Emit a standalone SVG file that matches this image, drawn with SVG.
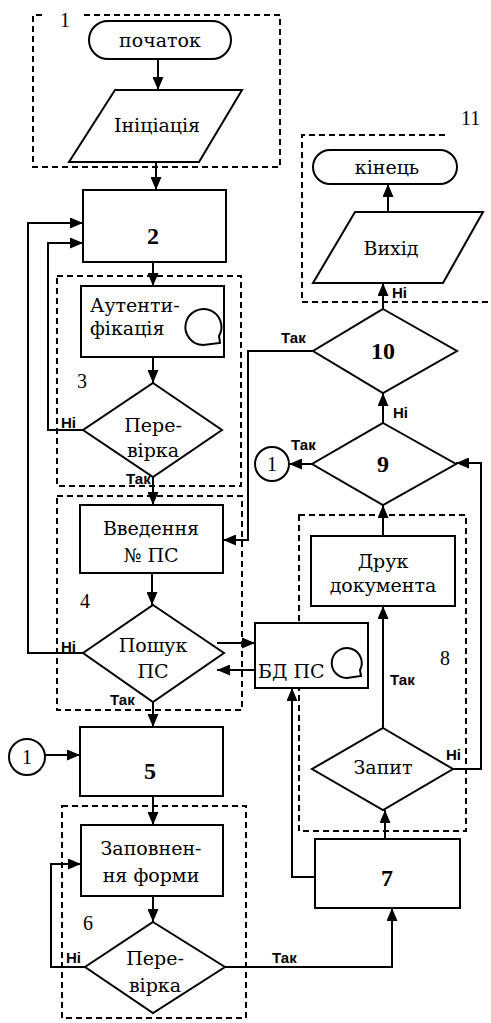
<svg xmlns="http://www.w3.org/2000/svg" width="491" height="1023" viewBox="0 0 491 1023">
<style>
.s{fill:#fff;stroke:#000;stroke-width:2}
.d{fill:none;stroke:#000;stroke-width:2;stroke-dasharray:6 4}
.c{fill:none;stroke:#000;stroke-width:2}
.t{font-family:"DejaVu Serif","Liberation Serif",serif;font-size:19px;fill:#000}
.m{text-anchor:middle}
.b{font-family:"Liberation Serif",serif;font-size:24px;font-weight:bold;fill:#000;text-anchor:middle}
.l{font-family:"Liberation Sans",sans-serif;font-size:15px;font-weight:bold;fill:#000}
.n{font-family:"Liberation Serif",serif;font-size:20px;fill:#000}
</style>
<defs>
<marker id="a" markerUnits="userSpaceOnUse" markerWidth="13" markerHeight="11" refX="13" refY="5.5" orient="auto">
<path d="M0,0 L13,5.5 L0,11 Z" fill="#000"/>
</marker>
</defs>
<rect width="491" height="1023" fill="#fff"/>

<g id="groups">
<path class="d" d="M42,15 H33 V167 H280 V15 H80"/>
<text class="n" x="60" y="27">1</text>
<rect class="d" x="57" y="276" width="184" height="210"/>
<text class="n" x="77" y="388">3</text>
<rect class="d" x="57" y="496" width="185" height="214"/>
<text class="n" x="80" y="608">4</text>
<rect class="d" x="62" y="806" width="184" height="212"/>
<text class="n" x="83" y="930">6</text>
<rect class="d" x="299" y="515" width="167" height="316"/>
<text class="n" x="440" y="665">8</text>
<path class="d" d="M445,135 H302 V302 H491"/>
<text class="n" x="461" y="125">11</text>
</g>

<g id="connectors">
<path class="c" d="M158,59 V90" marker-end="url(#a)"/>
<path class="c" d="M156,162 V190" marker-end="url(#a)"/>
<path class="c" d="M153,262 V286" marker-end="url(#a)"/>
<path class="c" d="M153,357 V383" marker-end="url(#a)"/>
<path class="c" d="M83,430 H48 V243 H83" marker-end="url(#a)"/>
<path class="c" d="M153,477 V505" marker-end="url(#a)"/>
<path class="c" d="M152,573 V605" marker-end="url(#a)"/>
<path class="c" d="M83,653 H28 V223 H83" marker-end="url(#a)"/>
<path class="c" d="M217,643 H255" marker-end="url(#a)"/>
<path class="c" d="M255,670 H217" marker-end="url(#a)"/>
<path class="c" d="M153,702 V727" marker-end="url(#a)"/>
<path class="c" d="M45,755 H80" marker-end="url(#a)"/>
<path class="c" d="M153,796 V825" marker-end="url(#a)"/>
<path class="c" d="M153,896 V922" marker-end="url(#a)"/>
<path class="c" d="M85,967 H51 V864 H81" marker-end="url(#a)"/>
<path class="c" d="M225,967 H392 V908" marker-end="url(#a)"/>
<path class="c" d="M315,877 H292 V688" marker-end="url(#a)"/>
<path class="c" d="M385,839 V810" marker-end="url(#a)"/>
<path class="c" d="M383,728 V606" marker-end="url(#a)"/>
<path class="c" d="M453,769 H481 V463 H456" marker-end="url(#a)"/>
<path class="c" d="M383,536 V505" marker-end="url(#a)"/>
<path class="c" d="M312,464 H289" marker-end="url(#a)"/>
<path class="c" d="M383,423 V393" marker-end="url(#a)"/>
<path class="c" d="M313,351 H248 V540 H223" marker-end="url(#a)"/>
<path class="c" d="M383,309 V283" marker-end="url(#a)"/>
<path class="c" d="M388,212 V184" marker-end="url(#a)"/>
<text class="l" x="61" y="428">Ні</text>
<text class="l" x="126" y="484">Так</text>
<text class="l" x="61" y="652">Ні</text>
<text class="l" x="110" y="705">Так</text>
<text class="l" x="66" y="963">Ні</text>
<text class="l" x="272" y="963">Так</text>
<text class="l" x="390" y="685">Так</text>
<text class="l" x="446" y="760">Ні</text>
<text class="l" x="291" y="450">Так</text>
<text class="l" x="393" y="418">Ні</text>
<text class="l" x="281" y="343">Так</text>
<text class="l" x="392" y="298">Ні</text>
</g>

<g id="start">
<rect class="s" x="89" y="21" width="142" height="38" rx="19"/>
<text class="t m" x="160" y="47">початок</text>
</g>
<g id="init">
<path class="s" d="M115,90 H242 L199,162 H69 Z"/>
<text class="t m" x="157" y="132">Ініціація</text>
</g>
<g id="n2">
<rect class="s" x="83" y="190" width="143" height="72"/>
<text class="b" x="153" y="244">2</text>
</g>
<g id="auth">
<rect class="s" x="81" y="286" width="143" height="71"/>
<text class="t" x="90" y="312">Аутенти-</text>
<text class="t" x="90" y="335">фікація</text>
<path class="c" d="M203,345 A18,18 0 1 1 219,336 L220,343 Z" fill="none"/>
</g>
<g id="check1">
<path class="s" d="M153,383 L222,430 L153,477 L83,430 Z"/>
<text class="t m" x="153" y="432">Пере-</text>
<text class="t m" x="153" y="457">вірка</text>
</g>
<g id="input">
<rect class="s" x="80" y="505" width="143" height="68"/>
<text class="t m" x="151" y="535">Введення</text>
<text class="t m" x="151" y="562">№ ПС</text>
</g>
<g id="search">
<path class="s" d="M153,605 L224,653 L153,702 L83,653 Z"/>
<text class="t m" x="153" y="652">Пошук</text>
<text class="t m" x="153" y="678">ПС</text>
</g>
<g id="db">
<rect class="s" x="255" y="623" width="113" height="65"/>
<text class="t" x="258" y="678">БД ПС</text>
<path class="c" d="M347,678 A15,15 0 1 1 360,670 L361,676 Z" fill="none"/>
</g>
<g id="con1a">
<circle class="s" cx="27" cy="757" r="18"/>
<text class="n m" x="27" y="764">1</text>
</g>
<g id="n5">
<rect class="s" x="80" y="727" width="143" height="69"/>
<text class="b" x="150" y="779">5</text>
</g>
<g id="form">
<rect class="s" x="81" y="825" width="142" height="71"/>
<text class="t m" x="151" y="855">Заповнен-</text>
<text class="t m" x="151" y="882">ня форми</text>
</g>
<g id="check2">
<path class="s" d="M153,922 L225,967 L153,1013 L85,967 Z"/>
<text class="t m" x="155" y="965">Пере-</text>
<text class="t m" x="155" y="992">вірка</text>
</g>
<g id="n7">
<rect class="s" x="315" y="839" width="145" height="69"/>
<text class="b" x="387" y="886">7</text>
</g>
<g id="query">
<path class="s" d="M383,728 L453,769 L383,810 L312,769 Z"/>
<text class="t m" x="383" y="774">Запит</text>
</g>
<g id="print">
<rect class="s" x="311" y="536" width="144" height="70"/>
<text class="t m" x="383" y="568">Друк</text>
<text class="t m" x="383" y="592">документа</text>
</g>
<g id="n9">
<path class="s" d="M383,423 L456,464 L383,505 L312,464 Z"/>
<text class="b" x="383" y="472">9</text>
</g>
<g id="con1b">
<circle class="s" cx="272" cy="464" r="17"/>
<text class="n m" x="272" y="471">1</text>
</g>
<g id="n10">
<path class="s" d="M383,309 L457,351 L383,393 L313,351 Z"/>
<text class="b" x="383" y="359">10</text>
</g>
<g id="output">
<path class="s" d="M355,212 H483 L443,283 H313 Z"/>
<text class="t m" x="391" y="255">Вихід</text>
</g>
<g id="end">
<rect class="s" x="313" y="150" width="144" height="34" rx="17"/>
<text class="t m" x="387" y="174">кінець</text>
</g>
</svg>
